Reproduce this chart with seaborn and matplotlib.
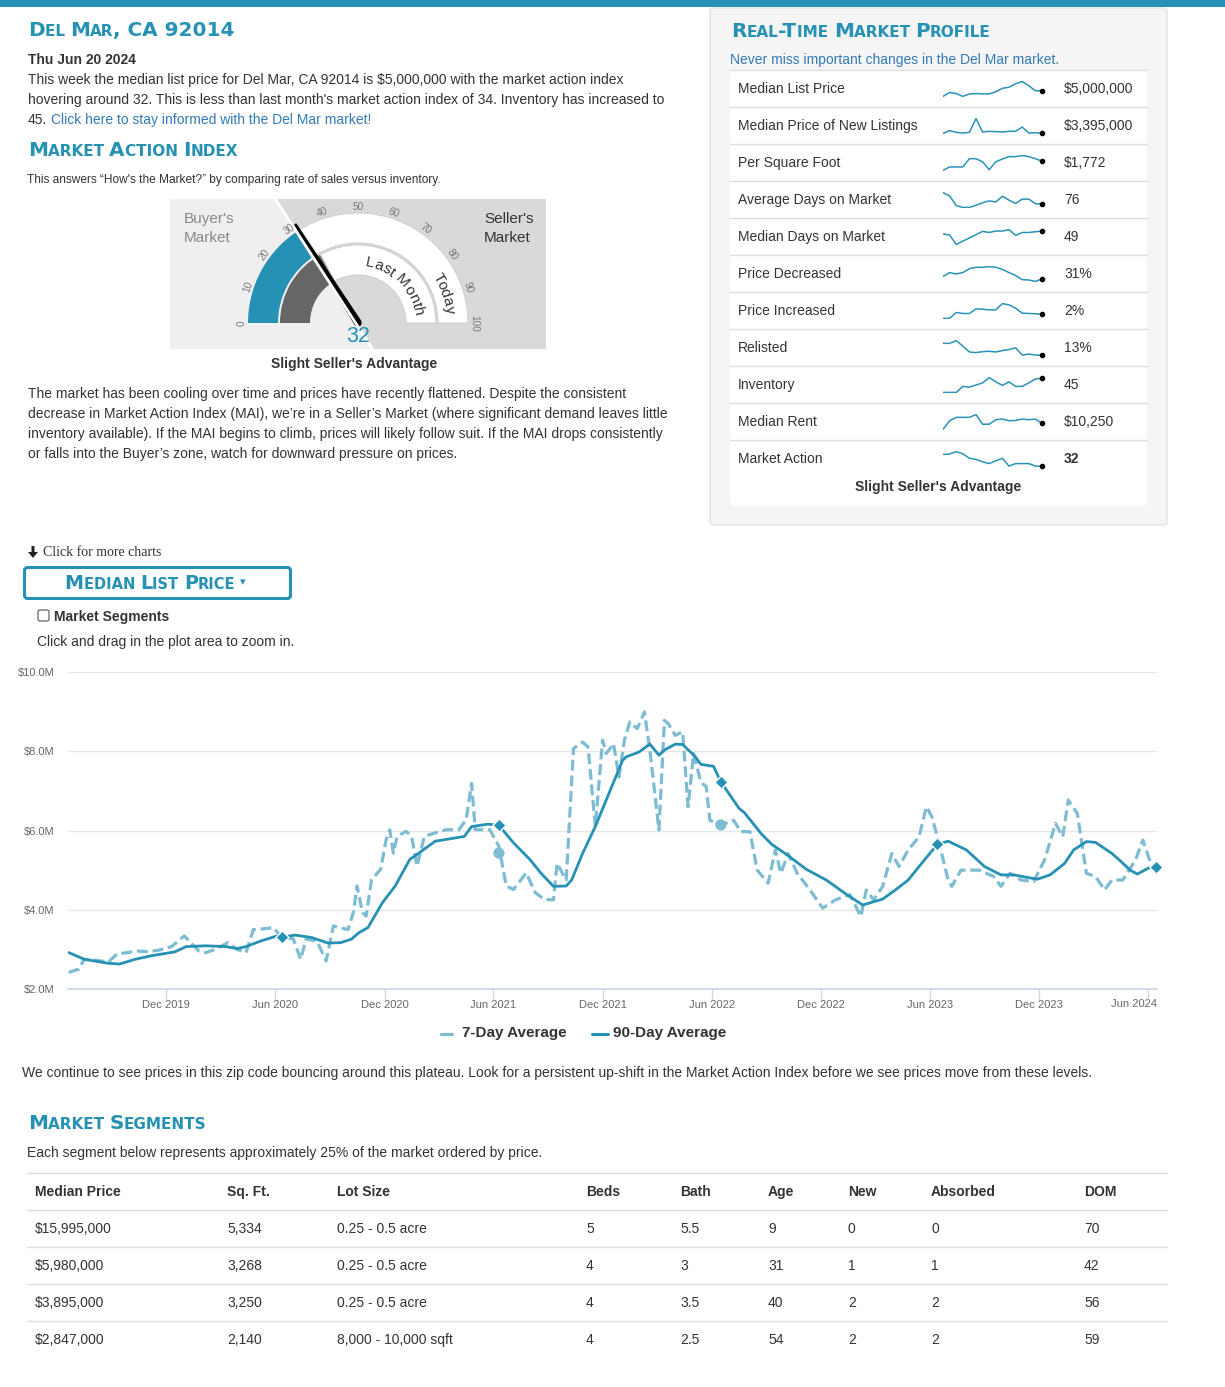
import numpy as np
import pandas as pd
import matplotlib
matplotlib.use("Agg")
import matplotlib.pyplot as plt
import seaborn as sns
from matplotlib.patches import Rectangle, Wedge, Polygon, FancyBboxPatch, Circle, FancyArrow
from matplotlib.font_manager import FontProperties

W, H = 1225, 1387
TEAL = "#2591b5"
LIGHT_TEAL = "#7dbcd2"
LINK = "#337ab7"
INK = "#333333"
SANS = "Liberation Sans"
CAPS_FONT = "DejaVu Sans"

# ---------------- data ----------------
# median list price in $M, x = months after 1 Dec 2019
seven_day_months = [
    -5.35, -4.8, -4.5, -3.6, -3.2, -2.7, -2.1, -1.6, -1.0, -0.4,
    0.3, 1.0, 1.8, 2.2, 2.7, 3.4, 3.9, 4.4, 4.8, 5.0,
    5.9, 6.3, 7.0, 7.4, 7.7, 8.3, 8.8, 9.2, 10.0, 10.3,
    10.5, 10.8, 11.0, 11.3, 11.8, 12.1, 12.3, 12.5, 12.7, 13.2,
    13.5, 13.8, 14.2, 14.8, 15.4, 16.1, 16.5, 16.8, 17.0, 17.8,
    18.3, 18.7, 19.1, 19.8, 20.3, 20.8, 21.3, 21.5, 22.0, 22.4,
    22.9, 23.2, 23.6, 24.0, 24.2, 24.6, 24.9, 25.2, 25.5, 25.9,
    26.3, 26.6, 27.1, 27.4, 27.6, 28.0, 28.4, 28.7, 29.0, 29.4,
    29.7, 29.9, 30.5, 31.2, 31.6, 32.1, 32.5, 33.1, 33.5, 33.8,
    34.2, 34.7, 35.4, 36.1, 36.8, 37.6, 38.2, 38.5, 38.9, 39.4,
    39.9, 40.3, 40.8, 41.4, 41.8, 42.1, 42.5, 43.0, 43.2, 43.7,
    44.7, 45.5, 45.9, 46.4, 47.0, 47.7, 48.3, 48.9, 49.3, 49.6,
    50.1, 50.6, 51.1, 51.6, 52.0, 52.6, 53.3, 53.7, 54.2, 54.4,
]
seven_day_price = [
    2.42, 2.5, 2.75, 2.71, 2.67, 2.88, 2.92, 2.96, 2.94, 2.98,
    3.07, 3.34, 2.96, 2.92, 3.0, 3.17, 3.0, 2.92, 3.5, 3.5,
    3.55, 3.34, 3.26, 2.75, 3.26, 3.21, 2.71, 3.59, 3.5, 3.93,
    4.6, 3.93, 3.84, 4.76, 5.02, 5.77, 6.02, 5.43, 5.85, 5.98,
    5.85, 5.1, 5.85, 5.94, 6.02, 6.02, 6.27, 7.19, 6.02, 6.02,
    5.6, 4.6, 4.51, 4.93, 4.43, 4.26, 4.25, 5.17, 4.75, 8.07,
    8.23, 8.11, 6.1, 8.28, 7.94, 8.19, 7.35, 8.28, 8.74, 8.57,
    8.99, 8.03, 6.01, 8.78, 8.7, 8.4, 8.49, 6.6, 7.94, 7.23,
    7.1, 6.26, 6.14, 6.26, 5.97, 5.97, 5.0, 4.67, 5.51, 4.92,
    5.42, 4.92, 4.5, 4.04, 4.25, 4.38, 3.83, 4.5, 4.25, 4.59,
    5.42, 5.09, 5.51, 5.84, 6.6, 6.35, 5.68, 4.75, 4.59, 5.0,
    5.0, 4.84, 4.59, 4.92, 4.75, 4.71, 5.26, 6.18, 5.84, 6.77,
    6.43, 4.92, 4.84, 4.5, 4.75, 4.75, 5.26, 5.76, 5.09, 5.05,
]
ninety_day_months = [
    -5.35, -4.5, -3.2, -2.55, -1.7, -0.8, 0, 0.5, 1.1, 2.2,
    3.3, 3.9, 4.4, 5.2, 6.1, 6.4, 7.1, 8.0, 8.9, 9.6,
    10.2, 10.6, 11.1, 11.9, 12.6, 13.4, 13.9, 14.8, 15.6, 16.4,
    16.8, 17.7, 18.3, 19.1, 20.0, 20.6, 21.3, 22.0, 22.3, 22.9,
    23.6, 24.2, 25.1, 25.3, 26.0, 26.6, 27.1, 27.4, 28.0, 28.4,
    29.1, 29.4, 30.1, 30.5, 31.5, 31.8, 32.7, 33.3, 34.1, 35.2,
    36.3, 37.4, 38.3, 39.4, 40.1, 40.8, 41.7, 42.4, 43.0, 44.0,
    45.0, 45.9, 46.6, 47.9, 48.6, 49.4, 49.9, 50.6, 51.1, 52.0,
    52.4, 53.0, 53.4, 54.0, 54.4,
]
ninety_day_price = [
    2.92, 2.75, 2.65, 2.63, 2.75, 2.84, 2.9, 2.94, 3.07, 3.09,
    3.07, 3.02, 3.07, 3.21, 3.34, 3.31, 3.36, 3.3, 3.16, 3.17,
    3.26, 3.42, 3.55, 4.18, 4.6, 5.27, 5.43, 5.73, 5.79, 5.85,
    6.1, 6.16, 6.13, 5.69, 5.27, 4.93, 4.59, 4.6, 4.75, 5.42,
    6.1, 6.77, 7.77, 7.86, 7.98, 8.18, 7.9, 8.03, 8.18, 8.17,
    7.86, 7.67, 7.62, 7.23, 6.56, 6.45, 5.93, 5.65, 5.4, 5.02,
    4.75, 4.39, 4.12, 4.27, 4.5, 4.75, 5.26, 5.65, 5.73, 5.51,
    5.09, 4.88, 4.88, 4.77, 4.88, 5.17, 5.51, 5.72, 5.70, 5.42,
    5.26, 5.0, 4.9, 5.05, 5.07,
]
flag_months = [6.4, 18.3, 30.5, 42.4, 54.4]
flag_price = [3.31, 6.13, 7.23, 5.65, 5.07]
hover_months = [18.3, 30.5]
hover_price = [5.43, 6.14]
x_tick_dates = ["2019-12-01", "2020-06-01", "2020-12-01", "2021-06-01", "2021-12-01",
                "2022-06-01", "2022-12-01", "2023-06-01", "2023-12-01", "2024-06-01"]
x_tick_labels = ["Dec 2019", "Jun 2020", "Dec 2020", "Jun 2021", "Dec 2021",
                 "Jun 2022", "Dec 2022", "Jun 2023", "Dec 2023", "Jun 2024"]
y_ticks = [2, 4, 6, 8, 10]

# market action index gauge
mai_today = 32
mai_last_month = 34
gauge_ticks = [0, 10, 20, 30, 40, 50, 60, 70, 80, 90, 100]

# real-time market profile
profile_labels = ["Median List Price", "Median Price of New Listings", "Per Square Foot",
                  "Average Days on Market", "Median Days on Market", "Price Decreased",
                  "Price Increased", "Relisted", "Inventory", "Median Rent", "Market Action"]
profile_values = ["$5,000,000", "$3,395,000", "$1,772", "76", "49", "31%",
                  "2%", "13%", "45", "$10,250", "32"]
spark_list_price = [2, 13, 10, 2, 9, 10, 9, 9, 15, 25, 28, 38, 44, 32, 18, 18]
spark_new_listings = [2, 10, 5, 3, 5, 44, 6, 8, 7, 6, 8, 8, 20, 3, 4, 2]
spark_per_sqft = [5, 15, 15, 15, 39, 39, 30, 7, 30, 38, 45, 45, 48, 45, 39, 32]
spark_avg_dom = [48, 39, 12, 7, 7, 13, 20, 25, 22, 38, 27, 18, 30, 30, 17, 17]
spark_median_dom = [33, 30, 4, 13, 22, 31, 40, 37, 41, 41, 45, 29, 37, 37, 39, 41]
spark_price_decreased = [17, 28, 24, 28, 39, 43, 43, 45, 43, 37, 28, 20, 8, 7, 3, 10]
spark_price_increased = [4, 4, 22, 19, 19, 33, 32, 30, 30, 49, 45, 35, 20, 19, 18, 17]
spark_relisted = [40, 40, 48, 32, 15, 13, 16, 17, 15, 19, 22, 27, 6, 9, 6, 5]
spark_inventory = [5, 5, 5, 22, 20, 26, 32, 47, 35, 25, 35, 22, 22, 32, 43, 45]
spark_rent = [2, 27, 37, 37, 37, 45, 17, 17, 30, 32, 27, 28, 32, 30, 32, 20]
spark_market_action = [36, 37, 44, 38, 25, 22, 15, 10, 18, 25, 3, 10, 10, 10, 3, 2]

# market segments
segment_columns = ["Median Price", "Sq. Ft.", "Lot Size", "Beds", "Bath", "Age", "New", "Absorbed", "DOM"]
seg_price = ["$15,995,000", "$5,980,000", "$3,895,000", "$2,847,000"]
seg_sqft = ["5,334", "3,268", "3,250", "2,140"]
seg_lot = ["0.25 - 0.5 acre", "0.25 - 0.5 acre", "0.25 - 0.5 acre", "8,000 - 10,000 sqft"]
seg_beds = [5, 4, 4, 4]
seg_bath = [5.5, 3, 3.5, 2.5]
seg_age = [9, 31, 40, 54]
seg_new = [0, 1, 2, 2]
seg_absorbed = [0, 1, 2, 2]
seg_dom = [70, 42, 56, 59]

# ---------------- page setup ----------------
sns.set_theme(style="white")
plt.rcParams["font.family"] = [SANS, "DejaVu Sans"]
plt.rcParams["text.parse_math"] = False

fig = plt.figure(figsize=(W / 100, H / 100), dpi=100)
renderer = fig.canvas.get_renderer()

page = fig.add_axes([0, 0, 1, 1])
page.set_xlim(0, W)
page.set_ylim(H, 0)
page.axis("off")


def px_rect(x, y, w, h):
    return [x / W, 1 - (y + h) / H, w / W, h / H]


def text_width(s, size, weight="normal", family=SANS):
    fp = FontProperties(family=family, size=size, weight=weight)
    return renderer.get_text_width_height_descent(s, fp, ismath=False)[0]


def advance(s, size, weight="normal", family=SANS):
    return text_width(s + "l", size, weight, family) - text_width("l", size, weight, family)


def put(x, y, s, size=10, color=INK, weight="normal", ha="left", va="center", **kw):
    return page.text(x, y, s, fontsize=size, color=color, fontweight=weight, ha=ha, va=va, **kw)


def small_caps(x, y, s, width, cap=13.3, color=TEAL, ratio=0.76, ha="left", weight="bold"):
    runs = []
    for ch in s:
        big = not ch.islower()
        if runs and (ch == " " or runs[-1][1] == big):
            runs[-1][0] += ch
        else:
            runs.append([ch, big])
    runs = [(t.upper(), b) for t, b in runs]

    def adv(t, sz):
        return advance(t, sz, weight=weight, family=CAPS_FONT)

    base = sum(adv(t, 10 if b else 10 * ratio) for t, b in runs)
    # fit the width, but keep the capitals close to the reference height
    size = min(10 * width / base, 1.1 * cap / (0.729 * 100 / 72))
    total = sum(adv(t, size if b else size * ratio) for t, b in runs)
    cx = x - total / 2 if ha == "center" else x
    for t, b in runs:
        sz = size if b else size * ratio
        page.text(cx, y, t, fontsize=sz, color=color, family=CAPS_FONT, fontweight=weight,
                  ha="left", va="baseline")
        cx += adv(t, sz)
    return cx


# top bar
page.add_patch(Rectangle((0, 0), W, 7, color=TEAL, lw=0))

# ---------------- header / intro ----------------
small_caps(28, 36, "Del Mar, CA 92014", 225)
put(28, 60, "Thu Jun 20 2024", weight="bold")
put(28, 80, "This week the median list price for Del Mar, CA 92014 is $5,000,000 with the market action index")
put(28, 100, "hovering around 32. This is less than last month's market action index of 34. Inventory has increased to")
put(28, 120, "45.")
put(28 + advance("45. ", 10), 120, "Click here to stay informed with the Del Mar market!", color=LINK)

small_caps(28, 156, "Market Action Index", 262)
put(27, 180, "This answers \u201cHow's the Market?\u201d by comparing rate of sales versus inventory.", size=8.6)

# ---------------- gauge ----------------
C = (358, 323)
gx0, gx1, gy0, gy1 = 170, 546, 199, 349
a_needle = np.radians(180 - 1.8 * mai_today)
dx, dy = np.cos(a_needle), -np.sin(a_needle)
x_top = C[0] + dx * (gy0 - C[1]) / dy - 4
x_bot = C[0] + dx * (gy1 - C[1]) / dy - 2
page.add_patch(Polygon([(gx0, gy0), (x_top, gy0), (x_bot, gy1), (gx0, gy1)], fc="#efefef", ec="none"))
page.add_patch(Polygon([(x_top, gy0), (gx1, gy0), (gx1, gy1), (x_bot, gy1)], fc="#d9d9d9", ec="none"))
page.plot([x_top, x_bot], [gy0, gy1], color="white", lw=2)


def band(r_out, width, v0, v1, **kw):
    # visual angles in a y-down frame map to negative data angles
    page.add_patch(Wedge(C, r_out, -(180 - 1.8 * v0), -(180 - 1.8 * v1), width=width, **kw))


band(110, 30, 0, mai_today, fc=TEAL, ec="none")
band(110, 30, mai_today, 100, fc="white", ec="#d0d0d0", lw=0.8)
band(78, 30, 0, mai_last_month, fc="#666666", ec="none")
band(78, 30, mai_last_month, 100, fc="white", ec="#d0d0d0", lw=0.8)

for v in gauge_ticks:
    a = np.radians(180 - 1.8 * v)
    put(C[0] + 116 * np.cos(a), C[1] - 116 * np.sin(a), str(v), size=7.2, color="#777777",
        ha="center", rotation=90 - 1.8 * v, rotation_mode="anchor")


def arc_text(s, r, v_start, size, color=INK):
    a0 = np.radians(180 - 1.8 * v_start)
    prev = 0.0
    for i, ch in enumerate(s):
        cur = advance(s[: i + 1], size)
        mid = (prev + cur) / 2
        prev = cur
        if ch == " ":
            continue
        ang = a0 - mid / r
        page.text(C[0] + r * np.cos(ang), C[1] - r * np.sin(ang), ch, fontsize=size, color=color,
                  rotation=np.degrees(ang) - 90, rotation_mode="anchor", ha="center", va="baseline")


arc_text("Last Month", 57, 54, 11)
arc_text("Today", 88, 82, 11)

tip = np.array([C[0] + 117 * dx, C[1] + 117 * dy])
base = np.array(C, dtype=float)
perp = np.array([-dy, dx])
page.add_patch(Polygon([tip + 1.0 * perp, base + 3.6 * perp, base - 3.6 * perp, tip - 1.0 * perp],
                       fc="black", ec="black", lw=0.5))
page.add_patch(Circle(C, 3.6, fc="black", ec="none"))

put(358, 336, str(mai_today), size=15.5, color=TEAL, ha="center")
put(184, 219, "Buyer's", size=11, color="#888888")
put(184, 238, "Market", size=11, color="#888888")
put(484, 219, "Seller's", size=11)
put(484, 238, "Market", size=11)
put(354, 364, "Slight Seller's Advantage", weight="bold", ha="center")

para = [
    "The market has been cooling over time and prices have recently flattened. Despite the consistent",
    "decrease in Market Action Index (MAI), we\u2019re in a Seller\u2019s Market (where significant demand leaves little",
    "inventory available). If the MAI begins to climb, prices will likely follow suit. If the MAI drops consistently",
    "or falls into the Buyer\u2019s zone, watch for downward pressure on prices.",
]
for i, line in enumerate(para):
    put(28, 394 + 20 * i, line)

# ---------------- real-time market profile ----------------
page.add_patch(FancyBboxPatch((710, 8), 457, 517, boxstyle="round,pad=0,rounding_size=3",
                              fc="#f5f5f5", ec="#e3e3e3", lw=1))
page.add_patch(FancyBboxPatch((730, 70), 417, 436, boxstyle="round,pad=0,rounding_size=4",
                              fc="white", ec="none"))
small_caps(731, 37, "Real-Time Market Profile", 324)
put(730, 60, "Never miss important changes in the Del Mar market.", color=LINK)

spark_series = [spark_list_price, spark_new_listings, spark_per_sqft, spark_avg_dom,
                spark_median_dom, spark_price_decreased, spark_price_increased, spark_relisted,
                spark_inventory, spark_rent, spark_market_action]
for i, (label, value, series) in enumerate(zip(profile_labels, profile_values, spark_series)):
    yc = 89 + 37 * i
    page.plot([730, 1147], [yc - 19, yc - 19], color="#dddddd", lw=1)
    put(738, yc, label)
    put(1064, yc, value, weight="bold" if label == "Market Action" else "normal")
    sax = fig.add_axes(px_rect(943, yc - 8, 99, 16))
    n = len(series)
    sns.lineplot(x=np.arange(n), y=series, ax=sax, color="#2a93b8", linewidth=1.1)
    sax.plot([n - 1], [series[-1]], "o", color="black", ms=3, clip_on=False)
    lo, hi = min(series), max(series)
    sax.set_xlim(0, n - 1)
    sax.set_ylim(lo - 0.04 * (hi - lo), hi + 0.04 * (hi - lo))
    sax.axis("off")
put(938, 487, "Slight Seller's Advantage", weight="bold", ha="center")

# ---------------- chart controls ----------------
page.add_patch(FancyArrow(33, 546, 0, 6, width=3, head_width=10, head_length=6,
                          length_includes_head=False, fc="#222222", ec="none"))
put(43, 553, "Click for more charts", family="Liberation Serif")
page.add_patch(FancyBboxPatch((24.5, 567.5), 266, 31, boxstyle="round,pad=0,rounding_size=3",
                              fc="white", ec=TEAL, lw=2.2))
end_x = small_caps(150, 589, "Median List Price", 218, cap=12.7, ha="center")
put(end_x + 8, 582, "\u25be", size=8, color=TEAL, ha="center", family="DejaVu Sans")
page.add_patch(FancyBboxPatch((38, 610), 11, 11, boxstyle="round,pad=0,rounding_size=2",
                              fc="white", ec="#666666", lw=0.9))
put(54, 617, "Market Segments", weight="bold")
put(37, 642, "Click and drag in the plot area to zoom in.")

# ---------------- main chart ----------------
def to_dates(months):
    return pd.Timestamp("2019-12-01") + pd.to_timedelta(np.asarray(months, dtype=float) * 30.44, unit="D")


seven = pd.DataFrame({"date": to_dates(seven_day_months), "price": seven_day_price})
ninety = pd.DataFrame({"date": to_dates(ninety_day_months), "price": ninety_day_price})

ax = fig.add_axes(px_rect(68, 672, 1089, 317))
ax.patch.set_alpha(0)
sns.lineplot(data=seven, x="date", y="price", ax=ax, color=LIGHT_TEAL, linewidth=2.3,
             linestyle=(0, (3.4, 1.5)), zorder=2)
sns.lineplot(data=ninety, x="date", y="price", ax=ax, color=TEAL, linewidth=2.0, zorder=3)
sns.scatterplot(x=to_dates(hover_months), y=hover_price, ax=ax, color=LIGHT_TEAL, s=65,
                edgecolor="none", zorder=4, clip_on=False)
sns.scatterplot(x=to_dates(flag_months), y=flag_price, ax=ax, marker="D", color=TEAL, s=45,
                edgecolor="white", linewidth=1, zorder=5, clip_on=False)

ax.set_xlim(to_dates([-5.39])[0], to_dates([54.48])[0])
ax.set_ylim(2, 10)
ax.set_xticks(pd.to_datetime(x_tick_dates))
ax.set_xticklabels(x_tick_labels[:-1] + [""])
ax.set_yticks(y_ticks)
ax.set_yticklabels([f"${v:.1f}M" for v in y_ticks])
ax.set_xlabel("")
ax.set_ylabel("")
ax.yaxis.grid(True, color="#e6e6e6", lw=1)
ax.xaxis.grid(False)
for side in ["top", "right", "left"]:
    ax.spines[side].set_visible(False)
ax.spines["bottom"].set_color("#ccd6eb")
ax.tick_params(axis="x", bottom=True, length=7, width=1, color="#ccd6eb",
               labelsize=8, labelcolor="#666666", pad=1)
ax.tick_params(axis="y", left=False, length=0, labelsize=8, labelcolor="#666666", pad=10)
put(1134, 1004, x_tick_labels[-1], size=8, color="#666666", ha="center")

# legend
page.plot([441, 452], [1034, 1034], color=LIGHT_TEAL, lw=2.3)
put(462, 1033, "7-Day Average", size=11, weight="bold")
page.plot([592, 608], [1034, 1034], color=TEAL, lw=2.2)
put(613, 1033, "90-Day Average", size=11, weight="bold")

put(22, 1073, "We continue to see prices in this zip code bouncing around this plateau. Look for a "
              "persistent up-shift in the Market Action Index before we see prices move from these levels.")

# ---------------- market segments ----------------
small_caps(28, 1129, "Market Segments", 227)
put(27, 1153, "Each segment below represents approximately 25% of the market ordered by price.")

column_x = [35, 227, 337, 586, 680, 768, 848, 931, 1084]
for k in range(5):
    yl = 1173 + 37 * k
    page.plot([27, 1167], [yl, yl], color="#dddddd", lw=1)
for cx, name in zip(column_x, segment_columns):
    put(cx, 1192, name, weight="bold")
rows = zip(seg_price, seg_sqft, seg_lot, seg_beds, seg_bath, seg_age, seg_new, seg_absorbed, seg_dom)
for i, row in enumerate(rows):
    for cx, cell in zip(column_x, row):
        put(cx, 1229 + 37 * i, f"{cell:g}" if isinstance(cell, float) else str(cell))

fig.savefig("out.png", dpi=100, facecolor="white")
